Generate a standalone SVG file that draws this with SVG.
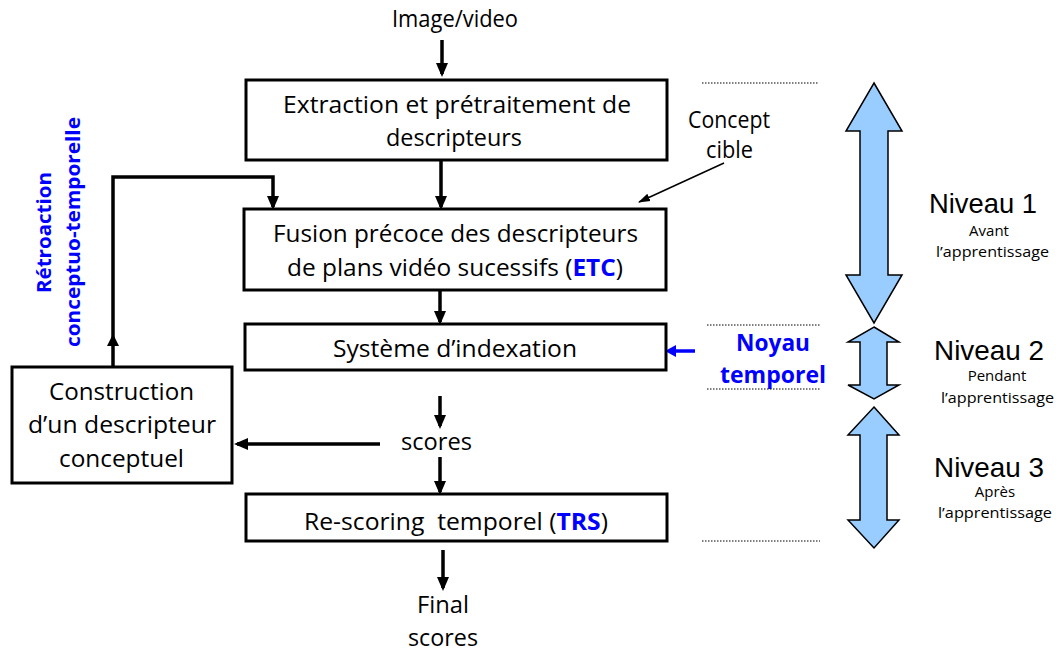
<svg xmlns="http://www.w3.org/2000/svg" width="1063" height="652" viewBox="0 0 1063 652">
<style>
.box{fill:#fff;stroke:#000;stroke-width:3}
.t{font-family:"Open Sans","Liberation Sans",sans-serif;font-size:23.5px;fill:#000;text-anchor:start}
.s{font-family:"Open Sans","Liberation Sans",sans-serif;font-size:15px;fill:#000}
.nv{font-family:"Liberation Sans",Arial,sans-serif;font-size:28px;fill:#000}
.b{font-family:"Open Sans","Liberation Sans",sans-serif;font-weight:bold;fill:#0000ff}
.ln{fill:none;stroke:#000;stroke-width:3.5}
.dot{stroke:#000;stroke-width:1.2;stroke-dasharray:1.5 1.5}
.dbl{fill:#99ccff;stroke:#000;stroke-width:1.5;stroke-linejoin:miter}
</style>
<defs>
<marker id="ah" markerUnits="userSpaceOnUse" markerWidth="14" markerHeight="14" viewBox="0 0 14 14" refX="11" refY="7" orient="auto">
<path d="M0,1 L14,7 L0,13 z" fill="#000"/>
</marker>
<marker id="ahs" markerUnits="userSpaceOnUse" markerWidth="12" markerHeight="12" viewBox="0 0 12 12" refX="11" refY="6" orient="auto">
<path d="M0,2 L12,6 L0,10 z" fill="#000"/>
</marker>
</defs>

<g id="connectors">
<path class="ln" d="M442,40 V74" marker-end="url(#ah)"/>
<path class="ln" d="M441,160 V207" marker-end="url(#ah)"/>
<path class="ln" d="M440,290 V322" marker-end="url(#ah)"/>
<path class="ln" d="M440,396 V426" marker-end="url(#ah)"/>
<path class="ln" d="M440,457 V492" marker-end="url(#ah)"/>
<path class="ln" d="M443,550 V588" marker-end="url(#ah)"/>
<path class="ln" d="M380,444 H237" marker-end="url(#ah)"/>
<path class="ln" d="M113,367 V177 H273 V207" marker-end="url(#ah)"/>
<polygon points="113,334 107,346 119,346" fill="#000"/>
<path d="M724,163 L639,202" stroke="#000" stroke-width="1.5" fill="none" marker-end="url(#ahs)"/>
<path d="M695,351 H672" stroke="#0000ff" stroke-width="3.5" fill="none"/>
<polygon points="665,351 676,345 676,357" fill="#0000ff"/>
</g>

<g id="input">
<text class="t" x="392" y="27" textLength="126" lengthAdjust="spacingAndGlyphs">Image/video</text>
</g>

<g id="extraction">
<rect class="box" x="246" y="80" width="421" height="80"/>
<text class="t" x="283" y="113" textLength="348" lengthAdjust="spacingAndGlyphs">Extraction et prétraitement de</text>
<text class="t" x="386" y="146" textLength="136" lengthAdjust="spacingAndGlyphs">descripteurs</text>
</g>

<g id="fusion">
<rect class="box" x="244" y="209" width="422" height="81"/>
<text class="t" x="273" y="242" textLength="365" lengthAdjust="spacingAndGlyphs">Fusion précoce des descripteurs</text>
<text class="t" x="287" y="276" textLength="336" lengthAdjust="spacingAndGlyphs">de plans vidéo sucessifs (<tspan class="b">ETC</tspan>)</text>
</g>

<g id="indexation">
<rect class="box" x="245" y="324" width="421" height="46"/>
<text class="t" x="333" y="357" textLength="244" lengthAdjust="spacingAndGlyphs">Système d’indexation</text>
</g>

<g id="scores">
<text class="t" x="401" y="450" textLength="71" lengthAdjust="spacingAndGlyphs">scores</text>
</g>

<g id="rescoring">
<rect class="box" x="246" y="494" width="421" height="47"/>
<text class="t" x="304" y="530" textLength="304" lengthAdjust="spacingAndGlyphs" xml:space="preserve">Re-scoring  temporel (<tspan class="b">TRS</tspan>)</text>
</g>

<g id="final">
<text class="t" x="417" y="613" textLength="52" lengthAdjust="spacingAndGlyphs">Final</text>
<text class="t" x="408" y="646" textLength="70" lengthAdjust="spacingAndGlyphs">scores</text>
</g>

<g id="construction">
<rect class="box" x="12" y="367" width="220" height="116"/>
<text class="t" x="49" y="400" textLength="145" lengthAdjust="spacingAndGlyphs">Construction</text>
<text class="t" x="28" y="433" textLength="188" lengthAdjust="spacingAndGlyphs">d’un descripteur</text>
<text class="t" x="59" y="467" textLength="125" lengthAdjust="spacingAndGlyphs">conceptuel</text>
</g>

<g id="retroaction">
<text class="b" font-size="20" transform="translate(51,293) rotate(-90)" textLength="121" lengthAdjust="spacingAndGlyphs">Rétroaction</text>
<text class="b" font-size="20" transform="translate(80,347) rotate(-90)" textLength="230" lengthAdjust="spacingAndGlyphs">conceptuo-temporelle</text>
</g>

<g id="concept">
<text class="t" x="688" y="128" textLength="82" lengthAdjust="spacingAndGlyphs">Concept</text>
<text class="t" x="706" y="158" textLength="47" lengthAdjust="spacingAndGlyphs">cible</text>
</g>

<g id="noyau">
<text class="b" font-size="23" x="736" y="351" textLength="74" lengthAdjust="spacingAndGlyphs">Noyau</text>
<text class="b" font-size="23" x="720" y="383" textLength="106" lengthAdjust="spacingAndGlyphs">temporel</text>
</g>

<g id="separators">
<line class="dot" x1="702" y1="83" x2="818" y2="83"/>
<line class="dot" x1="707" y1="325" x2="820" y2="325"/>
<line class="dot" x1="707" y1="389" x2="820" y2="389"/>
<line class="dot" x1="702" y1="541" x2="820" y2="541"/>
</g>

<g id="niveau1">
<polygon class="dbl" points="874,83 902,131 888,131 888,275 902,275 874,323 846,275 860,275 860,131 846,131"/>
<text class="nv" x="929" y="213" textLength="108" lengthAdjust="spacingAndGlyphs">Niveau 1</text>
<text class="s" x="989" y="236" text-anchor="middle">Avant</text>
<text class="s" x="936" y="257" textLength="113" lengthAdjust="spacingAndGlyphs">l’apprentissage</text>
</g>

<g id="niveau2">
<polygon class="dbl" points="874,327 899,342 887,342 887,385 899,385 874,399 848,385 860,385 860,342 848,342"/>
<text class="nv" x="934" y="360" textLength="110" lengthAdjust="spacingAndGlyphs">Niveau 2</text>
<text class="s" x="997" y="381" text-anchor="middle">Pendant</text>
<text class="s" x="941" y="403" textLength="113" lengthAdjust="spacingAndGlyphs">l’apprentissage</text>
</g>

<g id="niveau3">
<polygon class="dbl" points="874,407 899,435 887,435 887,520 899,520 874,548 848,520 860,520 860,435 848,435"/>
<text class="nv" x="934" y="477" textLength="110" lengthAdjust="spacingAndGlyphs">Niveau 3</text>
<text class="s" x="995" y="497" text-anchor="middle">Après</text>
<text class="s" x="938" y="518" textLength="114" lengthAdjust="spacingAndGlyphs">l’apprentissage</text>
</g>
</svg>
